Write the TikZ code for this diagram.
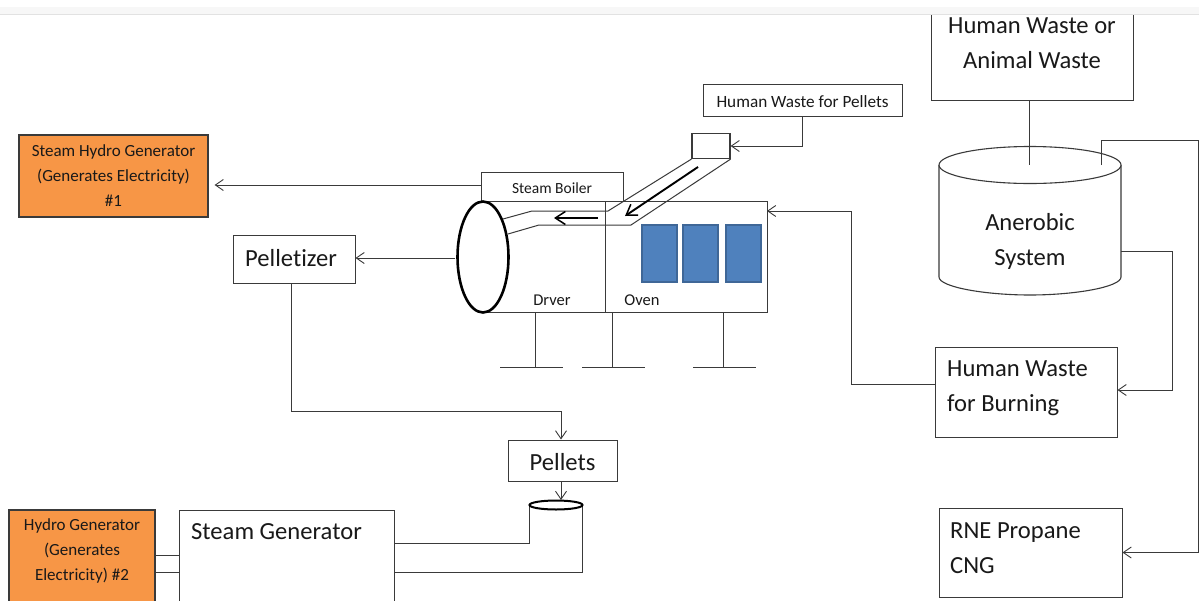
\documentclass[tikz,border=0pt]{standalone}
\usepackage{fontspec}
\setmainfont{Carlito}[Ligatures=NoCommon]
\usetikzlibrary{arrows.meta,calc}
\definecolor{ln}{HTML}{3A3A3A}
\definecolor{orangebox}{HTML}{F79646}
\definecolor{bluebox}{HTML}{4F81BD}
\definecolor{blueedge}{HTML}{3F6797}
\definecolor{band}{HTML}{F7F7F7}
\definecolor{bandline}{HTML}{E2E2E2}
\newcommand\fsz[2]{\fontsize{#1}{#2}\selectfont}
\newcommand\lowered[1]{\raisebox{-1.7pt}[\height][\depth]{#1}}
\tikzset{
  x=1pt,y=-1pt,
  conn/.style={draw=ln,line width=1pt},
  flow/.style={conn,-{Straight Barb[length=8pt,width=11pt,line width=0.9pt]}},
  bold flow/.style={draw=black,line width=1.9pt,-{Straight Barb[length=10pt,width=13pt,line width=1.5pt]}},
  box/.style={draw=ln,line width=1pt,fill=white,inner sep=0pt,align=center,text=black!90},
  orangenode/.style={box,fill=orangebox,line width=1.2pt},
  small/.style={font=\fsz{17}{25}},
  big/.style={font=\fsz{24.6}{35}},
  plain/.style={inner sep=0pt,text=black!90,align=left},
  tank/.style={draw=ln,line width=1.1pt,fill=white},
  panel/.style={draw=blueedge,line width=1.1pt,fill=bluebox,inner sep=0pt},
}
\begin{document}
\begin{tikzpicture}
\useasboundingbox (0,0) rectangle (1199,600);
\fill[white] (0,0) rectangle (1199,600);

% right column
\node[box,minimum width=202pt,minimum height=106pt] (waste) at (1032,47) {};
\node[plain,align=center,big] (wastetext) at (1032,43) {Human Waste or\\Animal Waste};
\fill[white] (0,0) rectangle (1199,7);
\fill[band] (0,7) rectangle (1199,14);
\draw[bandline,line width=1pt] (0,14) -- (1199,14);

% cylinder
\path[tank] (939,165) -- (939,277) .. controls (939,287) and (985,295) .. (1030,295)
  .. controls (1075,295) and (1121,287) .. (1121,277) -- (1121,165);
\draw[tank] (1030,165) ellipse [x radius=91,y radius=18.5];
\node[plain,align=center,big] (anerobic) at (1030,241) {Anerobic\\System};
\coordinate (tankin) at (1029,165);
\coordinate (tankout) at (1101,165);
\coordinate (tankside) at (1121,251);
\draw[conn] (waste.south -| tankin) -- (tankin);

\node[box,minimum width=182pt,minimum height=90pt] (burn) at (1026,392) {};
\node[plain,big,anchor=west] (burntext) at (947,388) {Human Waste\\for Burning};
\node[box,minimum width=183pt,minimum height=89pt] (rne) at (1030.5,552.5) {};
\node[plain,big,anchor=west] (rnetext) at (950,548.5) {RNE Propane\\CNG};
\coordinate (farright) at (1198,140);
\coordinate (midright) at (1172,251);
\draw[flow] (tankout) -- (tankout |- farright) -- (farright) -- (farright |- rne.east) -- (rne.east);
\draw[flow] (tankside) -- (midright) -- ([yshift=2pt]midright |- burn.east) -- ([yshift=2pt]burn.east);

% dryer / oven body
\node[box,minimum width=142pt,minimum height=29pt,font=\fsz{15.5}{18}] (boiler) at (552,186.5) {\lowered{Steam Boiler}};
\coordinate (bodyNW) at (483,201);
\coordinate (bodySW) at (483,312);
\coordinate (bodyNE) at (767,201);
\coordinate (bodySE) at (767,312);
\draw[conn] (bodyNW) -- (bodyNE) -- (bodySE) -- (bodySW);
\coordinate (divT) at (605,201);
\coordinate (divB) at (605,312);
\draw[conn] (divT) -- (divB);
\node[panel,minimum width=35pt,minimum height=57pt] (p1) at (659.5,253.5) {};
\node[panel,minimum width=35pt,minimum height=57pt] (p2) at (700.5,253.5) {};
\node[panel,minimum width=35pt,minimum height=57pt] (p3) at (743.5,253.5) {};
\node[plain,font=\fsz{16.5}{18}] (dryer) at (552,300) {Drver};
\node[plain,font=\fsz{16.5}{18}] (oven) at (642,300) {Oven};

% legs
\foreach \n/\x/\l/\r in {a/535/500/563,b/612/582/645,c/723/693/756}{
  \coordinate (leg\n) at (\x,367);
  \draw[conn] (\x,312) -- (leg\n);
  \draw[conn] (\l,367) -- (\r,367);
}

% hopper and chute
\node[draw=ln,line width=1.2pt,fill=white,inner sep=0pt,minimum width=38pt,minimum height=25pt] (hopper) at (711,146) {};
\draw[conn] (hopper.south west) -- (608,211) -- (532,211) -- (503,219);
\draw[conn] (hopper.south east) -- (631,225) -- (539,225) -- (508,234);
\coordinate (chuteA) at (698,167);
\coordinate (chuteB) at (625,216);
\coordinate (chuteC) at (598,218);
\coordinate (chuteD) at (554,218);
\draw[bold flow] (chuteA) -- (chuteB);
\draw[bold flow] (chuteC) -- (chuteD);

% drum
\draw[black,line width=2.6pt,fill=white] (483,257) ellipse [x radius=25.5,y radius=55.5];
\coordinate (drumW) at (455,258);

\node[box,minimum width=199pt,minimum height=32pt,font=\fsz{17.2}{18}] (pelletwaste) at (802.5,100) {\lowered{Human Waste for Pellets}};
\draw[flow] (pelletwaste.south) -- (pelletwaste.south |- hopper.east) -- (hopper.east);

\coordinate (ovenIn) at (767,211);
\coordinate (burnElbow) at (851,384);
\draw[flow] (burn.west |- burnElbow) -- (burnElbow) -- (burnElbow |- ovenIn) -- (ovenIn);

% left column
\node[orangenode,minimum width=189pt,minimum height=82pt,small] (gen1) at (113.5,176) {Steam Hydro Generator\\(Generates Electricity)\\\#1};
\node[box,minimum width=122pt,minimum height=48pt] (pelletizer) at (294,259) {};
\node[plain,big,anchor=west] (pelletizertext) at (245,258) {Pelletizer};
\node[box,minimum width=109pt,minimum height=41pt,big] (pellets) at (562.5,460.5) {\lowered{Pellets}};
\draw[flow,shorten >=6pt] ([yshift=1.5pt]boiler.west) -- ([yshift=1.5pt]boiler.west -| gen1.east);
\draw[flow] (drumW) -- (drumW -| pelletizer.east);
\coordinate (pelA) at (291,411);
\coordinate (pelB) at (561,411);
\draw[flow] (pelletizer.south -| pelA) -- (pelA) -- (pelB) -- (pelB |- pellets.north);

\node[orangenode,minimum width=146pt,minimum height=110pt] (gen2) at (82,565) {};
\node[plain,align=center,small] (gen2text) at (82,551) {Hydro Generator\\(Generates\\Electricity) \#2};
\node[box,minimum width=215pt,minimum height=110pt] (steamgen) at (286.5,565) {};
\node[plain,big,anchor=west] (steamtext) at (191,532) {Steam Generator};
\coordinate (fillL) at (529,505);
\coordinate (fillR) at (582,505);
\coordinate (fillT) at (561,500);
\draw[flow] (pellets.south -| fillT) -- (fillT);
\draw[conn] (gen2.east |- 0,555) -- (steamgen.west |- 0,555);
\draw[conn] (gen2.east |- 0,572) -- (steamgen.west |- 0,572);
\draw[conn] (steamgen.east |- 0,543) -- (fillL |- 0,543) -- (fillL);
\draw[conn] (steamgen.east |- 0,572) -- (fillR |- 0,572) -- (fillR);
\draw[black,line width=2pt,fill=white] (556,505) ellipse [x radius=26.5,y radius=4.5];
\end{tikzpicture}
\end{document}
